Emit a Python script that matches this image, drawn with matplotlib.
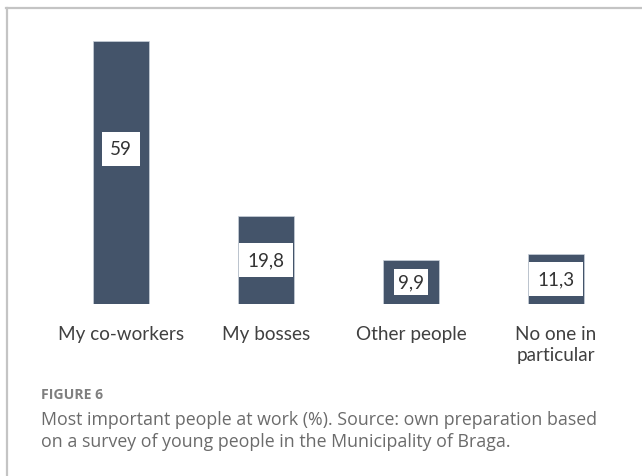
import matplotlib
matplotlib.use("Agg")
import matplotlib.pyplot as plt
from matplotlib.lines import Line2D

categories = ["My co-workers", "My bosses", "Other people", "No one in\nparticular"]
values = [59, 19.8, 9.9, 11.3]
value_labels = ["59", "19,8", "9,9", "11,3"]

caption_title = "FIGURE 6"
caption_text = ("Most important people at work (%). Source: own preparation based\n"
                "on a survey of young people in the Municipality of Braga.")

W, H = 642, 477
fig = plt.figure(figsize=(W / 100, H / 100), dpi=100)
fig.patch.set_facecolor("white")

# frame: top rule and left rule
fig.add_artist(Line2D([6 / W, 1.0], [1 - 9 / H, 1 - 9 / H], color="#c4c4c4", lw=1.6,
                      transform=fig.transFigure))
fig.add_artist(Line2D([7 / W, 7 / W], [0, 1 - 9 / H], color="#c4c4c4", lw=1.6,
                      transform=fig.transFigure))

# plot area in pixel coordinates
left_px, right_px = 48.5, 628.5
base_px, top_px = 305, 37.5
ax = fig.add_axes([left_px / W, 1 - base_px / H, (right_px - left_px) / W,
                   (base_px - top_px) / H])
ax.set_xlim(-0.5, len(values) - 0.5)
ax.set_ylim(0, 60)
ax.axis("off")

bar_color = "#44546a"
xs = list(range(len(values)))
ax.bar(xs, values, width=0.386, color=bar_color, edgecolor="#c9d0da", linewidth=0.5)

label_font = ["Lato", "DejaVu Sans"]
for i, (x, v, lab) in enumerate(zip(xs, values, value_labels)):
    y = v / 2 if i > 0 else 34.8
    pad = 0.45 if i != 2 else 0.22
    ax.text(x, y, lab, ha="center", va="center", fontsize=13.5, color="#333333",
            family=label_font,
            bbox=dict(boxstyle=f"square,pad={pad}", fc="white", ec="none"))

for x, cat in zip(xs, categories):
    ax.text(x, -4.6, cat, ha="center", va="top", fontsize=13.6, color="#404040",
            family=label_font, linespacing=1.32, transform=ax.transData, clip_on=False)

fig.text(41 / W, 1 - 395 / H, caption_title, ha="left", va="center", fontsize=10.1,
         color="#7f7f7f", fontweight="bold", family=["Open Sans", "DejaVu Sans"])
fig.text(41 / W, 1 - 431 / H, caption_text, ha="left", va="center", fontsize=12.8,
         color="#6b6b6b", family=["Open Sans", "DejaVu Sans"], linespacing=1.22)

fig.savefig("out.png", dpi=100, facecolor="white")
